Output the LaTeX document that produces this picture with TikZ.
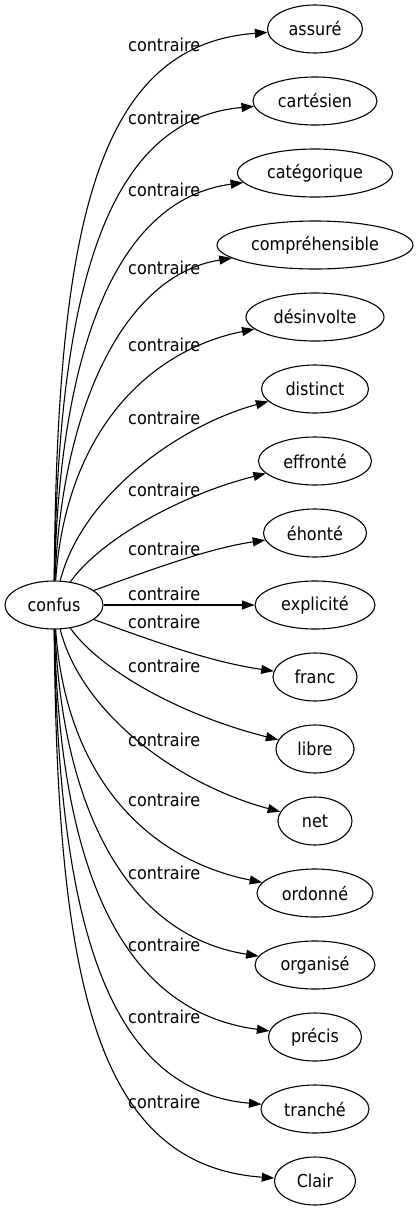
\documentclass[tikz,border=0pt]{standalone}
\usepackage{fontspec}
\setmainfont[FakeStretch=0.9]{DejaVu Sans}
\usetikzlibrary{shapes.geometric,arrows.meta}
\begin{document}
\begin{tikzpicture}[x=1pt,y=-1pt,
  every node/.style={font=\fontsize{17.8}{20}\selectfont},
  word/.style={ellipse,draw,line width=1.1pt,inner sep=0pt,minimum height=48pt},
  rel/.style={anchor=west,inner sep=0pt},
  link/.style={line width=1.1pt,-{Triangle[length=12.5pt,width=9pt]}}]
\useasboundingbox (0,0) rectangle (417,1211);
\node[word,minimum width=98pt] (confus) at (54,605) {\makebox[0pt]{confus}};
\foreach \t/\rx [count=\i] in {assuré/47.5,cartésien/62,catégorique/77.5,compréhensible/98,désinvolte/69,distinct/53.5,effronté/56.5,éhonté/51.5,explicité/60,franc/42,libre/39,net/37,ordonné/58,organisé/60,précis/46.5,tranché/54,Clair/40.5}{
  \node[word,minimum width=2*\rx] (n\i) at (315,{29+72*(\i-1)}) {\makebox[0pt]{\t}};
}
\foreach \y [count=\i] in {45,118,190,268,345,418,490,549,594,622,666,740,800,873,945,1017,1102}{
  \node[rel] (l\i) at (128,\y) {contraire};
}
\draw[link] (confus) -- (n9);
\foreach \k/\aa/\xa/\xb/\ab in {1/35/150/210/15,2/65/100/180/34,3/110/82/180/36,4/175/66/150/33,5/200/62/125/30,6/245/59/112/27,7/300/58/100/19,8/370/57/93/16}{
  \pgfmathtruncatemacro{\it}{9-\k}
  \pgfmathtruncatemacro{\ib}{9+\k}
  \pgfmathsetmacro{\yt}{605-72*\k}
  \pgfmathsetmacro{\yb}{605+72*\k}
  \draw[link] (confus) .. controls (\xa,{605-\aa}) and (\xb,{\yt+\ab}) .. (n\it);
  \draw[link] (confus) .. controls (\xa,{605+\aa}) and (\xb,{\yb-\ab}) .. (n\ib);
}
\end{tikzpicture}
\end{document}
